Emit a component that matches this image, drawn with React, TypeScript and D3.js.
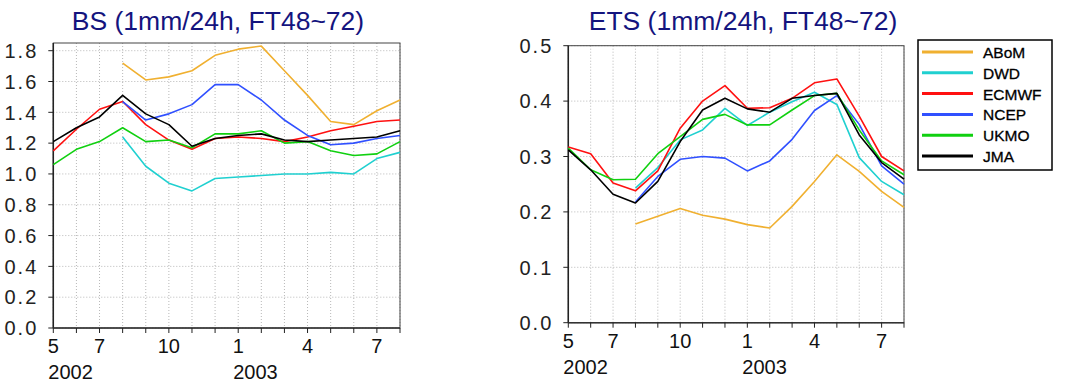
import * as d3 from "d3";

// months May 2002 .. Aug 2003
const months = ["5", "6", "7", "8", "9", "10", "11", "12", "1", "2", "3", "4", "5", "6", "7", "8"];
const labelIdx = [0, 2, 5, 8, 11, 14];
const years = [{ idx: 0, label: "2002" }, { idx: 8, label: "2003" }];

const models = ["ABoM", "DWD", "ECMWF", "NCEP", "UKMO", "JMA"];
const colors = ["#f0b030", "#20d0d0", "#ff1010", "#3050ff", "#10d010", "#000000"];

type V = number | null;

const bsABoM: V[] = [null, null, null, 1.72, 1.61, 1.63, 1.67, 1.77, 1.81, 1.83, 1.67, 1.51, 1.34, 1.32, 1.41, 1.48];
const bsDWD: V[] = [null, null, null, 1.24, 1.05, 0.94, 0.89, 0.97, 0.98, 0.99, 1.0, 1.0, 1.01, 1.0, 1.1, 1.14];
const bsECMWF: V[] = [1.15, 1.29, 1.42, 1.47, 1.32, 1.22, 1.16, 1.23, 1.24, 1.23, 1.21, 1.24, 1.28, 1.31, 1.34, 1.35];
const bsNCEP: V[] = [null, null, null, 1.47, 1.35, 1.39, 1.45, 1.58, 1.58, 1.48, 1.35, 1.25, 1.19, 1.2, 1.23, 1.25];
const bsUKMO: V[] = [1.06, 1.16, 1.21, 1.3, 1.21, 1.22, 1.17, 1.26, 1.26, 1.28, 1.2, 1.21, 1.15, 1.12, 1.13, 1.21];
const bsJMA: V[] = [1.21, 1.3, 1.37, 1.51, 1.39, 1.32, 1.18, 1.23, 1.25, 1.26, 1.22, 1.21, 1.22, 1.23, 1.24, 1.28];

const etsABoM: V[] = [null, null, null, 0.178, 0.192, 0.206, 0.194, 0.187, 0.177, 0.171, 0.21, 0.255, 0.303, 0.273, 0.237, 0.208];
const etsDWD: V[] = [null, null, null, 0.243, 0.28, 0.33, 0.348, 0.387, 0.356, 0.38, 0.399, 0.416, 0.394, 0.298, 0.255, 0.231];
const etsECMWF: V[] = [0.317, 0.305, 0.252, 0.238, 0.274, 0.351, 0.4, 0.428, 0.387, 0.388, 0.405, 0.433, 0.44, 0.373, 0.3, 0.274];
const etsNCEP: V[] = [null, null, null, 0.218, 0.264, 0.295, 0.3, 0.297, 0.274, 0.292, 0.331, 0.383, 0.41, 0.358, 0.283, 0.25];
const etsUKMO: V[] = [0.315, 0.276, 0.258, 0.259, 0.305, 0.336, 0.367, 0.376, 0.357, 0.357, 0.384, 0.41, 0.414, 0.348, 0.292, 0.267];
const etsJMA: V[] = [0.312, 0.276, 0.232, 0.216, 0.255, 0.327, 0.384, 0.405, 0.386, 0.38, 0.405, 0.41, 0.414, 0.339, 0.289, 0.259];

const bsTicks = [0, 0.2, 0.4, 0.6, 0.8, 1.0, 1.2, 1.4, 1.6, 1.8];
const etsTicks = [0, 0.1, 0.2, 0.3, 0.4, 0.5];

const tickFont = "'Liberation Sans', Arial, sans-serif";

interface PanelProps {
  title: string;
  titleX: number;
  series: V[][];
  ticks: number[];
  yMax: number;
  left: number;
  right: number;
  top: number;
  bottom: number;
}

function Panel({ title, titleX, series, ticks, yMax, left, right, top, bottom }: PanelProps) {
  const x = d3.scaleLinear().domain([0, months.length - 1]).range([left, right]);
  const y = d3.scaleLinear().domain([0, yMax]).range([bottom, top]);
  const line = d3
    .line<V>()
    .defined(d => d != null)
    .x((_, i) => x(i))
    .y(d => y(d as number));

  return (
    <g>
      <text x={titleX} y={30} textAnchor="middle" fontFamily="'Liberation Sans', Arial, sans-serif" fontSize={26.5} fill="#14147e">
        {title}
      </text>
      {/* grid */}
      {months.map((_, i) => (
        <line key={"gx" + i} x1={x(i)} x2={x(i)} y1={top} y2={bottom} stroke="#b8b8b8" strokeWidth={1} strokeDasharray="1,2" />
      ))}
      {ticks.map(t => (
        <line key={"gy" + t} x1={left} x2={right} y1={y(t)} y2={y(t)} stroke="#b8b8b8" strokeWidth={1} strokeDasharray="1,2" />
      ))}
      {/* frame */}
      <rect x={left} y={top} width={right - left} height={bottom - top} fill="none" stroke="#444" strokeWidth={1} />
      <line x1={left} x2={left} y1={top} y2={bottom} stroke="#222" strokeWidth={1.5} />
      <line x1={left} x2={right} y1={bottom} y2={bottom} stroke="#333" strokeWidth={1.5} />
      {/* y ticks */}
      {ticks.map(t => (
        <g key={"yt" + t}>
          <line x1={left - 5} x2={left} y1={y(t)} y2={y(t)} stroke="#222" />
          <text x={left - 15} y={y(t)} dy="0.36em" textAnchor="end" fontFamily={tickFont} fontSize={20} letterSpacing={2} fill="#222">
            {d3.format(".1f")(t)}
          </text>
        </g>
      ))}
      {/* x ticks */}
      {months.map((_, i) => (
        <line key={"xt" + i} x1={x(i)} x2={x(i)} y1={bottom} y2={bottom + 5} stroke="#222" />
      ))}
      {labelIdx.map(i => (
        <text key={"xl" + i} x={x(i)} y={bottom + 25} textAnchor="middle" fontFamily={tickFont} fontSize={20} fill="#111">
          {months[i]}
        </text>
      ))}
      {years.map(yr => (
        <text key={yr.label} x={x(yr.idx) - 5} y={bottom + 51} textAnchor="start" fontFamily={tickFont} fontSize={20} fill="#111">
          {yr.label}
        </text>
      ))}
      {/* series */}
      {series.map((s, k) => (
        <path key={models[k]} d={line(s) ?? ""} fill="none" stroke={colors[k]} strokeWidth={1.6} strokeLinejoin="round" />
      ))}
    </g>
  );
}

function Legend() {
  const lx = 918;
  const ly = 40;
  return (
    <g>
      <rect x={lx} y={ly} width={134} height={130} fill="#fff" stroke="#000" strokeWidth={1.5} />
      {models.map((m, k) => {
        const yy = ly + 12 + k * 20.8;
        return (
          <g key={m}>
            <line x1={lx + 4} x2={lx + 55} y1={yy} y2={yy} stroke={colors[k]} strokeWidth={3} />
            <text x={lx + 65} y={yy + 6} fontFamily="'Liberation Sans', Arial, sans-serif" fontSize={15.5} fill="#000" stroke="#000" strokeWidth={0.3}>
              {m}
            </text>
          </g>
        );
      })}
    </g>
  );
}

export default function App() {
  return (
    <svg width={1065} height={386} style={{ position: "absolute", left: 0, top: 0, background: "#fff" }}>
      <Panel
        title="BS (1mm/24h, FT48~72)"
        titleX={218}
        series={[bsABoM, bsDWD, bsECMWF, bsNCEP, bsUKMO, bsJMA]}
        ticks={bsTicks}
        yMax={1.85}
        left={53.3}
        right={400}
        top={43}
        bottom={328}
      />
      <Panel
        title="ETS (1mm/24h, FT48~72)"
        titleX={743}
        series={[etsABoM, etsDWD, etsECMWF, etsNCEP, etsUKMO, etsJMA]}
        ticks={etsTicks}
        yMax={0.5}
        left={568.3}
        right={904}
        top={45.7}
        bottom={322.7}
      />
      <Legend />
    </svg>
  );
}
